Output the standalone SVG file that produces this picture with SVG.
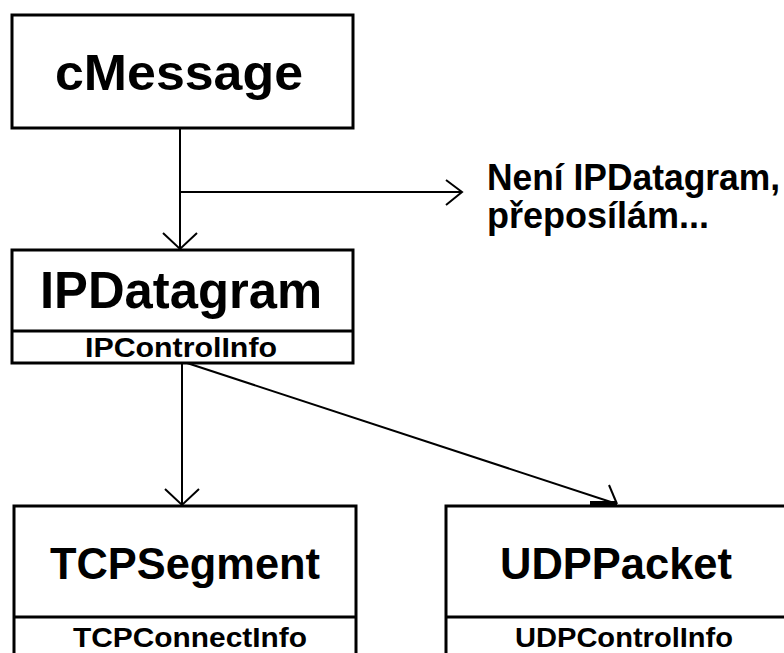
<svg xmlns="http://www.w3.org/2000/svg" width="784" height="653" viewBox="0 0 784 653">
<style>
.box{fill:#fff;stroke:#000;stroke-width:3}
.div{stroke:#000;stroke-width:3}
.big{font-family:"Liberation Sans",Arial,sans-serif;font-weight:bold;fill:#000}
.small{font-family:"Liberation Sans",Arial,sans-serif;font-weight:bold;font-size:27px;fill:#000}
.note{font-family:"Liberation Sans",Arial,sans-serif;font-weight:bold;font-size:36px;fill:#000}
.ln{fill:none;stroke:#000;stroke-width:2}
</style>
<rect width="784" height="653" fill="#fff"/>
<g id="connectors">
<path class="ln" d="M180,128 V249"/>
<path class="ln" d="M163,233 L180,249 L197,233"/>
<path class="ln" d="M180,192 H461"/>
<path class="ln" d="M446,180 L462,192 L446,205"/>
<path class="ln" d="M182,363 V505"/>
<path class="ln" d="M165,489 L182,505 L199,489"/>
<path class="ln" d="M187,363 L617,504"/>
<path class="ln" d="M609,485 L617,504"/>
<path d="M590,501 H617 V505 H590 Z" fill="#000"/>
</g>
<g id="cMessage">
<rect class="box" x="12" y="15" width="341" height="113"/>
<text class="big" x="55" y="90" font-size="50" textLength="248" lengthAdjust="spacingAndGlyphs">cMessage</text>
</g>
<g id="note">
<text class="note" x="487" y="190" textLength="293" lengthAdjust="spacingAndGlyphs">Není IPDatagram,</text>
<text class="note" x="487" y="228">přeposílám...</text>
</g>
<g id="IPDatagram">
<rect class="box" x="12" y="250" width="341" height="113"/>
<line class="div" x1="12" y1="331" x2="353" y2="331"/>
<text class="big" x="40" y="308" font-size="52" textLength="282" lengthAdjust="spacingAndGlyphs">IPDatagram</text>
<text class="small" x="85" y="357" textLength="192" lengthAdjust="spacingAndGlyphs">IPControlInfo</text>
</g>
<g id="TCPSegment">
<rect class="box" x="14" y="506" width="342" height="160"/>
<line class="div" x1="14" y1="617" x2="356" y2="617"/>
<text class="big" x="50" y="579" font-size="44" textLength="270" lengthAdjust="spacingAndGlyphs">TCPSegment</text>
<text class="small" x="73" y="647" textLength="234" lengthAdjust="spacingAndGlyphs">TCPConnectInfo</text>
</g>
<g id="UDPPacket">
<rect class="box" x="446" y="506" width="360" height="160"/>
<line class="div" x1="446" y1="617" x2="784" y2="617"/>
<text class="big" x="500" y="579" font-size="44" textLength="232" lengthAdjust="spacingAndGlyphs">UDPPacket</text>
<text class="small" x="515" y="647" textLength="218" lengthAdjust="spacingAndGlyphs">UDPControlInfo</text>
</g>
</svg>
